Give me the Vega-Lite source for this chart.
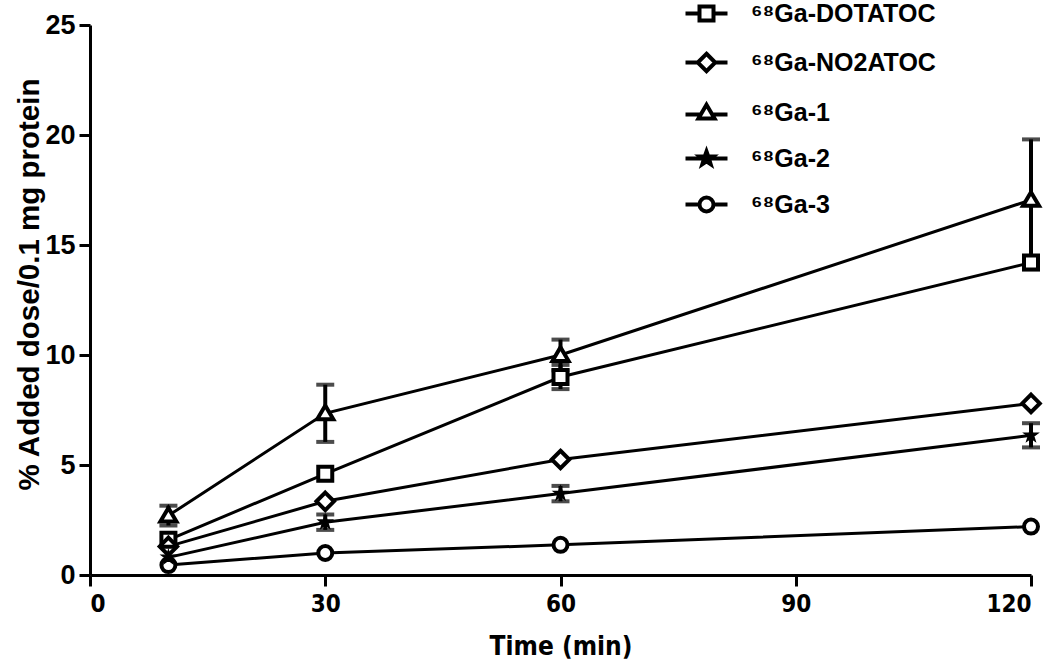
{
  "$schema": "https://vega.github.io/schema/vega-lite/v6.json",
  "autosize": "none",
  "width": 941,
  "height": 550,
  "padding": {"left": 90, "top": 25, "right": 19, "bottom": 91},
  "background": "white",
  "config": {
    "view": {"stroke": null},
    "font": "Liberation Sans",
    "axis": {
      "domainColor": "black", "domainWidth": 3, "tickColor": "black", "tickWidth": 3, "tickSize": 11,
      "labelColor": "black", "labelFont": "Liberation Sans", "labelFontWeight": "bold", "labelFontSize": 25,
      "titleColor": "black", "titleFont": "Liberation Sans", "titleFontWeight": "bold", "titleFontSize": 25,
      "grid": false
    }
  },
  "resolve": {"scale": {"shape": "independent"}, "legend": {"shape": "independent"}},
  "datasets": {
    "means": [
      {"series": "⁶⁸Ga-DOTATOC", "time": 10, "value": 1.6},
      {"series": "⁶⁸Ga-DOTATOC", "time": 30, "value": 4.6},
      {"series": "⁶⁸Ga-DOTATOC", "time": 60, "value": 9.0},
      {"series": "⁶⁸Ga-DOTATOC", "time": 120, "value": 14.2},
      {"series": "⁶⁸Ga-NO2ATOC", "time": 10, "value": 1.3},
      {"series": "⁶⁸Ga-NO2ATOC", "time": 30, "value": 3.35},
      {"series": "⁶⁸Ga-NO2ATOC", "time": 60, "value": 5.25},
      {"series": "⁶⁸Ga-NO2ATOC", "time": 120, "value": 7.8},
      {"series": "⁶⁸Ga-1", "time": 10, "value": 2.7},
      {"series": "⁶⁸Ga-1", "time": 30, "value": 7.35},
      {"series": "⁶⁸Ga-1", "time": 60, "value": 10.0},
      {"series": "⁶⁸Ga-1", "time": 120, "value": 17.05},
      {"series": "⁶⁸Ga-2", "time": 10, "value": 0.8},
      {"series": "⁶⁸Ga-2", "time": 30, "value": 2.4},
      {"series": "⁶⁸Ga-2", "time": 60, "value": 3.7},
      {"series": "⁶⁸Ga-2", "time": 120, "value": 6.35},
      {"series": "⁶⁸Ga-3", "time": 10, "value": 0.45},
      {"series": "⁶⁸Ga-3", "time": 30, "value": 1.0},
      {"series": "⁶⁸Ga-3", "time": 60, "value": 1.37},
      {"series": "⁶⁸Ga-3", "time": 120, "value": 2.2}
    ],
    "errs": [
      {"series": "⁶⁸Ga-1", "time": 10, "lo": 2.25, "hi": 3.15},
      {"series": "⁶⁸Ga-1", "time": 30, "lo": 6.05, "hi": 8.65},
      {"series": "⁶⁸Ga-1", "time": 60, "lo": 9.3, "hi": 10.7},
      {"series": "⁶⁸Ga-1", "time": 120, "lo": 14.3, "hi": 19.8},
      {"series": "⁶⁸Ga-DOTATOC", "time": 60, "lo": 8.45, "hi": 9.55},
      {"series": "⁶⁸Ga-DOTATOC", "time": 120, "lo": 13.9, "hi": 14.5},
      {"series": "⁶⁸Ga-2", "time": 30, "lo": 2.05, "hi": 2.75},
      {"series": "⁶⁸Ga-2", "time": 60, "lo": 3.35, "hi": 4.05},
      {"series": "⁶⁸Ga-2", "time": 120, "lo": 5.8, "hi": 6.9}
    ]
  },
  "encoding": {
    "x": {"field": "time", "type": "quantitative",
      "scale": {"domain": [0, 120], "nice": false},
      "axis": {"values": [0, 30, 60, 90, 120], "title": "Time (min)", "labelFont": "DejaVu Sans Condensed, Liberation Sans", "titleFont": "DejaVu Sans Condensed, Liberation Sans", "labelFontSize": 24, "titleFontSize": 26, "labelPadding": 6, "titlePadding": 17}},
    "y": {"field": "value", "type": "quantitative",
      "scale": {"domain": [0, 25], "nice": false},
      "axis": {"values": [0, 5, 10, 15, 20, 25], "title": "% Added dose/0.1 mg protein", "labelFontSize": 27, "titleFontSize": 29.5, "labelPadding": 4, "titlePadding": 0, "titleY": 259}}
  },
  "layer": [
    {
      "data": {"name": "means"},
      "mark": {"type": "line", "stroke": "black", "strokeWidth": 3},
      "encoding": {"detail": {"field": "series"}}
    },
    {
      "data": {"name": "errs"},
      "mark": {"type": "rule", "stroke": "black", "strokeWidth": 4},
      "encoding": {"y": {"field": "lo", "type": "quantitative"}, "y2": {"field": "hi"}}
    },
    {
      "data": {"name": "errs"},
      "mark": {"type": "tick", "orient": "horizontal", "color": "black", "size": 18, "thickness": 4},
      "encoding": {"y": {"field": "lo", "type": "quantitative"}}
    },
    {
      "data": {"name": "errs"},
      "mark": {"type": "tick", "orient": "horizontal", "color": "black", "size": 18, "thickness": 4},
      "encoding": {"y": {"field": "hi", "type": "quantitative"}}
    },
    {
      "data": {"name": "means"},
      "transform": [{"filter": "datum.series !== '⁶⁸Ga-2'"}],
      "mark": {"type": "point", "filled": true, "fill": "white", "strokeWidth": 0, "opacity": 1, "size": 196},
      "encoding": {"shape": {"field": "series", "type": "nominal", "legend": null,
        "scale": {
          "domain": ["⁶⁸Ga-DOTATOC", "⁶⁸Ga-NO2ATOC", "⁶⁸Ga-1", "⁶⁸Ga-2", "⁶⁸Ga-3"],
          "range": [
            "M-1,-1H1V1H-1Z",
            "M0,-1.25L1.25,0L0,1.25L-1.25,0Z",
            "M0,-1.1L1.15,0.85L-1.15,0.85Z",
            "M0,-1L0.235,-0.324L0.951,-0.309L0.38,0.124L0.588,0.809L0,0.4L-0.588,0.809L-0.38,0.124L-0.951,-0.309L-0.235,-0.324Z",
            "M1,0A1,1,0,1,1,-1,0A1,1,0,1,1,1,0Z"
          ]
        }}}
    },
    {
      "data": {"name": "means"},
      "transform": [{"filter": "datum.series !== '⁶⁸Ga-2'"}],
      "mark": {"type": "point", "filled": false, "stroke": "black", "strokeWidth": 4, "opacity": 1, "size": 196},
      "encoding": {"shape": {"field": "series", "type": "nominal", "legend": null,
        "scale": {
          "domain": ["⁶⁸Ga-DOTATOC", "⁶⁸Ga-NO2ATOC", "⁶⁸Ga-1", "⁶⁸Ga-2", "⁶⁸Ga-3"],
          "range": [
            "M-1,-1H1V1H-1Z",
            "M0,-1.25L1.25,0L0,1.25L-1.25,0Z",
            "M0,-1.1L1.15,0.85L-1.15,0.85Z",
            "M0,-1L0.235,-0.324L0.951,-0.309L0.38,0.124L0.588,0.809L0,0.4L-0.588,0.809L-0.38,0.124L-0.951,-0.309L-0.235,-0.324Z",
            "M1,0A1,1,0,1,1,-1,0A1,1,0,1,1,1,0Z"
          ]
        }}}
    },
    {
      "data": {"name": "means"},
      "transform": [{"filter": "datum.series === '⁶⁸Ga-2'"}],
      "mark": {"type": "point", "filled": true, "fill": "black", "stroke": "black", "strokeWidth": 1.5, "opacity": 1, "size": 196},
      "encoding": {"shape": {"field": "series", "type": "nominal", "legend": null,
        "scale": {
          "domain": ["⁶⁸Ga-DOTATOC", "⁶⁸Ga-NO2ATOC", "⁶⁸Ga-1", "⁶⁸Ga-2", "⁶⁸Ga-3"],
          "range": [
            "M-1,-1H1V1H-1Z",
            "M0,-1.25L1.25,0L0,1.25L-1.25,0Z",
            "M0,-1.1L1.15,0.85L-1.15,0.85Z",
            "M0,-1L0.235,-0.324L0.951,-0.309L0.38,0.124L0.588,0.809L0,0.4L-0.588,0.809L-0.38,0.124L-0.951,-0.309L-0.235,-0.324Z",
            "M1,0A1,1,0,1,1,-1,0A1,1,0,1,1,1,0Z"
          ]
        }}}
    },
    {
      "data": {"name": "means"},
      "mark": {"type": "point", "filled": false, "stroke": "black", "strokeWidth": 3, "opacity": 0, "size": 196},
      "encoding": {
        "shape": {"field": "series", "type": "nominal",
          "scale": {
            "domain": ["⁶⁸Ga-DOTATOC", "⁶⁸Ga-NO2ATOC", "⁶⁸Ga-1", "⁶⁸Ga-2", "⁶⁸Ga-3"],
            "range": [
              "M-3,0H-1M1,0H3M-1,-1H1V1H-1Z",
              "M-3,0H-1.25M1.25,0H3M0,-1.25L1.25,0L0,1.25L-1.25,0Z",
              "M-3,0.3H-1M1,0.3H3M0,-1.1L1.15,0.85L-1.15,0.85Z",
              "M-3,0H3M0,-1L0.235,-0.324L0.951,-0.309L0.38,0.124L0.588,0.809L0,0.4L-0.588,0.809L-0.38,0.124L-0.951,-0.309L-0.235,-0.324Z",
              "M-3,0H-1M1,0H3M1,0A1,1,0,1,1,-1,0A1,1,0,1,1,1,0Z"
            ]
          },
          "legend": {
            "orient": "none", "legendX": 604, "legendY": -24, "title": null,
            "symbolSize": 196, "symbolStrokeWidth": 4, "symbolStrokeColor": "black", "symbolOpacity": 1,
            "labelFont": "Liberation Sans", "labelFontWeight": "bold", "labelFontSize": 25, "labelColor": "black",
            "labelOffset": 32, "rowPadding": 16, "labelLimit": 400,
            "encode": {
              "symbols": {"update": {
                "fill": {"signal": "datum.value === '⁶⁸Ga-2' ? 'black' : 'white'"},
                "opacity": {"value": 1},
                "stroke": {"value": "black"},
                "strokeWidth": {"value": 4}
              }}
            }
          }
        }
      }
    }
  ]
}
